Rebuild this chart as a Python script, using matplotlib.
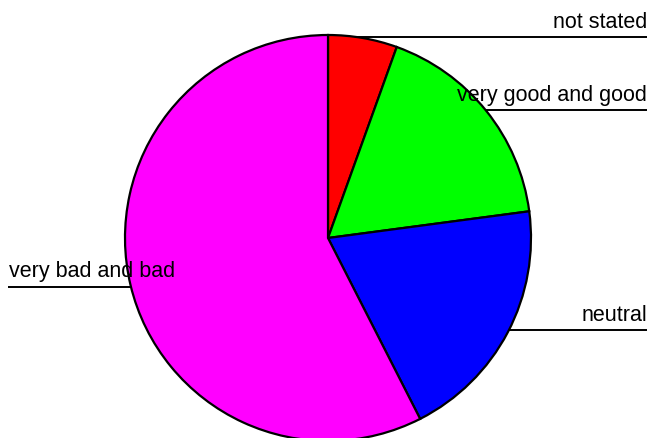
import numpy as np
import matplotlib
matplotlib.use("Agg")
import matplotlib.pyplot as plt

categories = ["not stated", "very good and good", "neutral", "very bad and bad"]
values = [5.5, 17.4, 19.6, 57.5]
colors = ["#FF0000", "#00FF00", "#0000FF", "#FF00FF"]

W, H = 651, 439
fig = plt.figure(figsize=(W / 100, H / 100), dpi=100)
ax = fig.add_axes([0, 0, 1, 1])

cx, cy, r = 328, H - 239, 203
ax.pie(values, colors=colors, startangle=90, counterclock=False,
       center=(cx, cy), radius=r,
       wedgeprops=dict(edgecolor="black", linewidth=1.6))
ax.set_xlim(0, W)
ax.set_ylim(0, H)
ax.set_aspect("equal")
ax.axis("off")

# label layout: (pixel y of leader line from top, side)
label_y = [38, 110.5, 331, 288]
label_side = ["right", "right", "right", "left"]
for name, ly, side in zip(categories, label_y, label_side):
    y = H - ly
    dx = np.sqrt(max(r ** 2 - (y - cy) ** 2, 0))
    if side == "right":
        x0, x1 = cx + dx, 647
        ax.plot([x0, x1], [y, y], color="black", lw=1.4, solid_capstyle="butt")
        ax.text(647, y + 10, name, ha="right", va="baseline",
                fontsize=15.5, family="Liberation Sans")
    else:
        x0, x1 = 8, cx - dx
        ax.plot([x0, x1], [y, y], color="black", lw=1.4, solid_capstyle="butt")
        ax.text(9, y + 11, name, ha="left", va="baseline",
                fontsize=15.5, family="Liberation Sans")

fig.savefig("out.png", dpi=100)
